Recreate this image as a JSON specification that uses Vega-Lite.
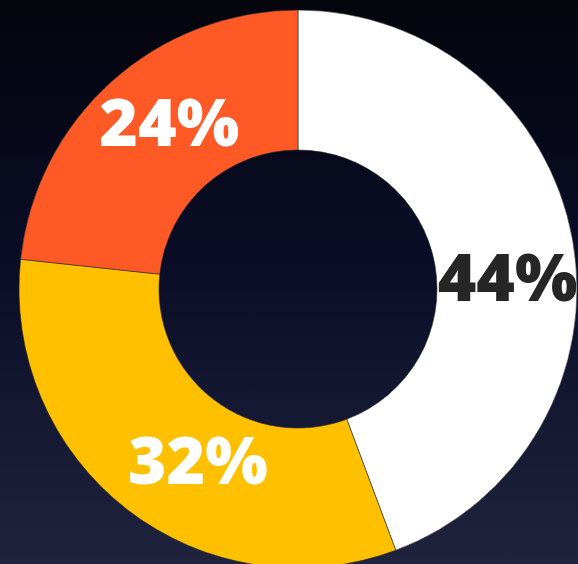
{
  "$schema": "https://vega.github.io/schema/vega-lite/v6.json",
  "width": 596,
  "height": 578,
  "autosize": {"type": "none"},
  "padding": {"left": 0, "top": 0, "right": -18, "bottom": -14},
  "background": "#05060f",
  "view": {
    "stroke": null,
    "fill": {
      "gradient": "linear",
      "x1": 0, "y1": 0, "x2": 0, "y2": 1,
      "stops": [
        {"offset": 0, "color": "#03040c"},
        {"offset": 0.45, "color": "#0a0d26"},
        {"offset": 1, "color": "#21243f"}
      ]
    }
  },
  "data": {
    "values": [
      {"segment": "A", "order": 1, "share": 44.3, "label": "44%"},
      {"segment": "B", "order": 2, "share": 32.4, "label": "32%"},
      {"segment": "C", "order": 3, "share": 23.3, "label": "24%"}
    ]
  },
  "encoding": {
    "theta": {"field": "share", "type": "quantitative", "stack": true},
    "order": {"field": "order", "type": "quantitative"}
  },
  "layer": [
    {
      "mark": {"type": "arc", "outerRadius": 279, "innerRadius": 139, "stroke": "#2a2a2a", "strokeWidth": 0.6},
      "encoding": {
        "color": {
          "field": "segment",
          "type": "nominal",
          "scale": {"domain": ["A", "B", "C"], "range": ["#ffffff", "#ffc000", "#ff5a26"]},
          "legend": null
        }
      }
    },
    {
      "mark": {"type": "text", "radius": 209, "dx": 4, "dy": 29, "font": "Open Sans", "fontWeight": 800, "fontSize": 66, "fill": "#262626", "align": "center", "baseline": "middle"},
      "encoding": {"text": {"condition": {"test": "datum.segment === 'A'", "field": "label"}, "value": ""}}
    },
    {
      "mark": {"type": "text", "radius": 209, "dx": 28, "dy": 10, "font": "Open Sans", "fontWeight": 800, "fontSize": 66, "fill": "#ffffff", "align": "center", "baseline": "middle"},
      "encoding": {"text": {"condition": {"test": "datum.segment === 'B'", "field": "label"}, "value": ""}}
    },
    {
      "mark": {"type": "text", "radius": 209, "dx": 11, "dy": -8, "font": "Open Sans", "fontWeight": 800, "fontSize": 66, "fill": "#ffffff", "align": "center", "baseline": "middle"},
      "encoding": {"text": {"condition": {"test": "datum.segment === 'C'", "field": "label"}, "value": ""}}
    }
  ]
}
